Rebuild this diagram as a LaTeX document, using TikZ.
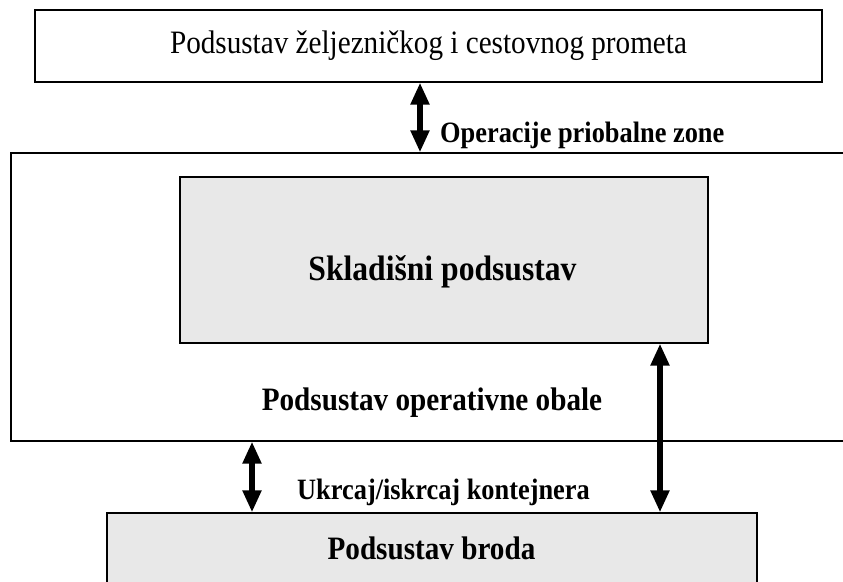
\documentclass[tikz,border=0pt]{standalone}
\usepackage{fontspec}
\setmainfont{Liberation Serif}
\usepackage{tikz}
\usetikzlibrary{arrows.meta,positioning}

\definecolor{boxgray}{RGB}{232,232,232}
\newcommand{\tall}[1]{\scalebox{1}[1.12]{#1}}

\begin{document}
\begin{tikzpicture}[
    box/.style={draw, line width=0.8pt, minimum width=#1, inner sep=0pt},
    biarrow/.style={{Triangle[length=0.44cm,width=0.36cm]}-{Triangle[length=0.44cm,width=0.36cm]}, line width=3pt},
    lbl/.style={font=\fontsize{15}{18}\selectfont\bfseries}
]

\useasboundingbox (0,0) rectangle (16.86,11.64);
\clip (0,0) rectangle (16.86,11.64);

% Boxes
\node (promet) at (8.57,10.72) [box=15.74cm, minimum height=1.44cm, font=\fontsize{16.6}{20}\selectfont] {\tall{Podsustav željezničkog i cestovnog prometa}};
\node (obala) at (8.71,5.70) [box=16.98cm, minimum height=5.76cm] {};
\node (skladiste) at (8.88,6.44) [box=10.56cm, minimum height=3.32cm, fill=boxgray] {};
\node (brod) at (8.64,0.44) [box=13cm, minimum height=1.88cm, fill=boxgray] {};

% Texts
\node (tskladiste) at (8.85,6.20) [font=\fontsize{18}{22}\selectfont\bfseries] {\tall{Skladišni podsustav}};
\node (tobala) at (8.64,3.58) [font=\fontsize{16.6}{20}\selectfont\bfseries] {\tall{Podsustav operativne obale}};
\node (tbrod) at (8.63,0.67) [font=\fontsize{16.6}{20}\selectfont\bfseries] {\tall{Podsustav broda}};

% Arrows
\coordinate (x1) at (8.4,0);
\coordinate (x2) at (13.2,0);
\coordinate (x3) at (5.04,0);
\draw [biarrow] (x1 |- promet.south) -- (x1 |- obala.north);
\draw [biarrow] (x2 |- skladiste.south) -- (x2 |- brod.north);
\draw [biarrow] (x3 |- obala.south) -- (x3 |- brod.north);

% Labels
\node (operacije) at (8.68,8.94) [anchor=west, lbl] {\tall{Operacije priobalne zone}};
\node (ukrcaj) at (8.87,1.80) [lbl] {\tall{Ukrcaj/iskrcaj kontejnera}};

\end{tikzpicture}
\end{document}
